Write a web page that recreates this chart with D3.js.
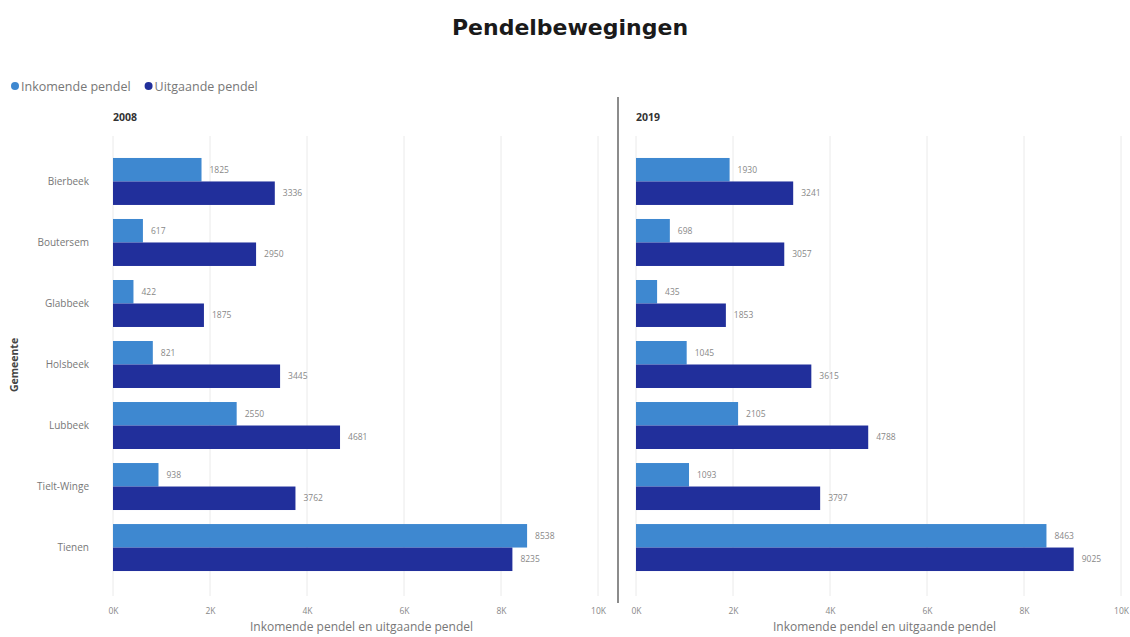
<!DOCTYPE html>
<html><head><meta charset="utf-8">
<script src="https://cdn.jsdelivr.net/npm/d3@7"></script>
<style>body{margin:0;background:#fff;font-family:"Open Sans","Liberation Sans",sans-serif;}</style>
</head><body><svg id="c" width="1130" height="637"></svg>
<script>
const categories = ["Bierbeek","Boutersem","Glabbeek","Holsbeek","Lubbeek","Tielt-Winge","Tienen"];
const series = ["Inkomende pendel","Uitgaande pendel"];
const colors = ["#3e88d0","#212f9b"];
const years = ["2008","2019"];
const inkomende2008 = [1825,617,422,821,2550,938,8538];
const uitgaande2008 = [3336,2950,1875,3445,4681,3762,8235];
const inkomende2019 = [1930,698,435,1045,2105,1093,8463];
const uitgaande2019 = [3241,3057,1853,3615,4788,3797,9025];
const tickValues = [0,2000,4000,6000,8000,10000];
const tickLabels = ["0K","2K","4K","6K","8K","10K"];

const svg = d3.select("#c");
svg.append("text").attr("x",570).attr("y",35).attr("text-anchor","middle")
  .style("font-family","'DejaVu Sans',sans-serif").style("font-weight","bold")
  .style("font-size","22px").attr("fill","#1a1a1a").text("Pendelbewegingen");

// legend
const lg = svg.append("g").attr("transform","translate(10,86)");
let lx = 0;
series.forEach((s,i)=>{
  lg.append("circle").attr("cx",lx+5).attr("cy",0).attr("r",4).attr("fill",colors[i]);
  const t = lg.append("text").attr("x",lx+11).attr("y",4.5).style("font-size","12.5px").attr("fill","#777").text(s);
  lx += 11 + t.node().getComputedTextLength() + 13;
});

const y = d3.scaleBand().domain(categories).range([141.5,587.5]).paddingInner(0.23).paddingOuter(0.27);
const ys = d3.scaleBand().domain(series).range([0,y.bandwidth()]);

// y axis title
svg.append("text").attr("transform","translate(18,365) rotate(-90)").attr("text-anchor","middle")
  .style("font-size","10.5px").style("font-weight","bold").attr("fill","#444").text("Gemeente");

// category labels
svg.append("g").selectAll("text").data(categories).join("text")
  .attr("x",89).attr("y",d=>y(d)+y.bandwidth()/2+3.5).attr("text-anchor","end")
  .style("font-size","10px").attr("fill","#777").text(d=>d);

// divider
svg.append("line").attr("x1",618).attr("x2",618).attr("y1",97).attr("y2",603).attr("stroke","#666").attr("stroke-width",1.5);

const panels = [
  {year:years[0], x0:113, x1:598, data:[inkomende2008,uitgaande2008]},
  {year:years[1], x0:636, x1:1121, data:[inkomende2019,uitgaande2019]}
];
panels.forEach(p=>{
  const x = d3.scaleLinear().domain([0,10000]).range([p.x0,p.x1]);
  const g = svg.append("g");
  g.append("text").attr("x",p.x0).attr("y",121).style("font-size","10.5px").style("font-weight","bold").attr("fill","#333").text(p.year);
  // gridlines
  g.append("g").selectAll("line").data(tickValues).join("line")
    .attr("x1",d=>x(d)).attr("x2",d=>x(d)).attr("y1",136).attr("y2",596)
    .attr("stroke","#eaeaea").attr("stroke-width",1);
  // axis labels
  const ax = d3.axisBottom(x).tickValues(tickValues).tickFormat((d,i)=>tickLabels[i]).tickSize(0).tickPadding(0);
  const axg = g.append("g").attr("transform","translate(0,608)").call(ax);
  axg.select(".domain").remove();
  axg.selectAll("text").style("font-size","8.5px").attr("fill","#888").style("font-family","'Open Sans',sans-serif");
  g.append("text").attr("x",(p.x0+p.x1)/2+6).attr("y",631).attr("text-anchor","middle")
    .style("font-size","12px").attr("fill","#777").text("Inkomende pendel en uitgaande pendel");
  series.forEach((s,si)=>{
    const vals = p.data[si];
    g.append("g").selectAll("rect").data(categories).join("rect")
      .attr("x",x(0)).attr("y",d=>y(d)+ys(s)).attr("height",ys.bandwidth())
      .attr("width",(d,i)=>x(vals[i])-x(0)).attr("fill",colors[si]);
    g.append("g").selectAll("text").data(categories).join("text")
      .attr("x",(d,i)=>x(vals[i])+8).attr("y",d=>y(d)+ys(s)+ys.bandwidth()/2+3)
      .style("font-size","8.5px").attr("fill","#888").text((d,i)=>vals[i]);
  });
});
</script></body></html>
